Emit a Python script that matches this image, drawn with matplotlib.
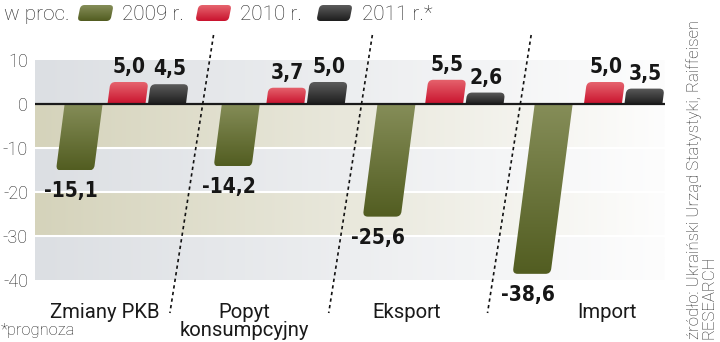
import numpy as np
import matplotlib
matplotlib.use("Agg")
import matplotlib.pyplot as plt
from matplotlib.patches import FancyBboxPatch
from matplotlib.transforms import Affine2D
from matplotlib.colors import to_rgb

# ---------------- data ----------------
categories = ["Zmiany PKB", "Popyt\nkonsumpcyjny", "Eksport", "Import"]
series_names = ["2009 r.", "2010 r.", "2011 r.*"]
v2009 = [-15.1, -14.2, -25.6, -38.6]
v2010 = [5.0, 3.7, 5.5, 5.0]
v2011 = [4.5, 5.0, 2.6, 3.5]
yticks = [10, 0, -10, -20, -30, -40]
ytick_labels = ["10", "0", "-10", "-20", "-30", "-40"]
unit_label = "w proc."
footnote = "*prognoza"
source = "źródło: Ukraiński Urząd Statystyki, Raiffeisen\nRESEARCH"

# ---------------- styles / layout ----------------
grad_colors = [("#858d58", "#525d21"),   # 2009 olive (top, bottom)
               ("#e6646e", "#c9132e"),   # 2010 red
               ("#5c5c5c", "#1e1e1e")]   # 2011 black
band_left = ["#dcdfe3", "#d5d3bb"]
LIGHT = dict(family=["Roboto", "DejaVu Sans"], weight="light")
REG = dict(family=["Roboto", "DejaVu Sans"], weight="normal")
BOLD = dict(family=["DejaVu Sans"], weight="bold", fontstretch="condensed")
TXT = "#262626"


def fmt(v):
    return f"{v:.1f}".replace(".", ",")


W, H = 720, 342
fig = plt.figure(figsize=(W / 100, H / 100), dpi=100)
fig.patch.set_facecolor("white")
renderer = fig.canvas.get_renderer()


def fit_size(s, props, target, base=12.0):
    t = fig.text(0, 0, s, fontsize=base, **props)
    w = t.get_window_extent(renderer).width
    t.remove()
    return base * target / w


ax_l, ax_r, ax_t, ax_b = 35, 665, 60, 280
ax = fig.add_axes([ax_l / W, 1 - ax_b / H, (ax_r - ax_l) / W, (ax_b - ax_t) / H])
x0, x1 = -0.576, 3.391
ymin, ymax = -40, 10
px_x = (ax_r - ax_l) / (x1 - x0)
px_y = (ax_b - ax_t) / (ymax - ymin)

# background bands with horizontal fade to white
edges = yticks
for i in range(len(edges) - 1):
    hi, lo = edges[i], edges[i + 1]
    lc = np.array(to_rgb(band_left[i % 2]))
    rc = np.array(to_rgb("#fdfdfd"))
    t = np.linspace(0, 1, 256)[:, None]
    arr = (lc * (1 - t) + rc * t)[None, :, :]
    ax.imshow(arr, extent=[x0, x1, lo, hi], aspect="auto", zorder=0,
              interpolation="bilinear")
for y in [-10, -20, -30]:
    ax.axhline(y, color="white", lw=1.5, zorder=1)

# skewed, rounded, gradient bars
k_bar = 0.13
c_bar = k_bar * px_y / px_x
skew = Affine2D(np.array([[1, c_bar, 0], [0, 1, 0], [0, 0, 1]]))
olive_dx = [-0.27, -0.28, -0.30, -0.31]
series_dx = [olive_dx, [0.0] * 4, [0.255] * 4]
width = 0.239
r_x = 5 / px_x
m_aspect = px_x / px_y
ext = 3.0
series = [v2009, v2010, v2011]

val_fs = fit_size("-25,6", BOLD, 54)

for j, vals in enumerate(series):
    ctop, cbot = (np.array(to_rgb(c)) for c in grad_colors[j])
    for i, v in enumerate(vals):
        xc = i + series_dx[j][i]
        if v < 0:
            yb, hb = v, -v + ext
        else:
            yb, hb = -ext, v + ext
        patch = FancyBboxPatch((xc - width / 2, yb), width, hb,
                               boxstyle=f"round,pad=0,rounding_size={r_x}",
                               mutation_aspect=m_aspect,
                               transform=skew + ax.transData,
                               facecolor="none", edgecolor="none", zorder=3)
        ax.add_patch(patch)
        tt = np.linspace(0, 1, 64)[:, None]
        arr = (ctop * (1 - tt) + cbot * tt)[:, None, :]
        sh = abs(c_bar * v) + 0.05
        im = ax.imshow(arr, extent=[xc - width / 2 - sh, xc + width / 2 + sh,
                                    min(v, 0), max(v, 0)],
                       origin="upper", aspect="auto", zorder=3,
                       interpolation="bilinear")
        im.set_clip_path(patch)
        if v < 0:
            ax.annotate(fmt(v), xy=(xc + c_bar * v, v), xytext=(-4, -11),
                        textcoords="offset pixels", ha="center", va="top",
                        fontsize=val_fs, color="#161616", zorder=6, **BOLD)
        else:
            ax.annotate(fmt(v), xy=(xc + c_bar * v, v), xytext=(0, 5),
                        textcoords="offset pixels", ha="center", va="bottom",
                        fontsize=val_fs, color="#161616", zorder=6, **BOLD)

ax.axhline(0, color="#1a1a1a", lw=1.6, zorder=5)

# dotted slanted dividers
k_div = 0.157
c_div = k_div * px_y / px_x
y_top = (ax_t + ymax * px_y - 35) / px_y
y_bot = -(313 - (ax_t + ymax * px_y)) / px_y
for i in range(len(categories) - 1):
    xm = i + 0.48
    ax.plot([xm + c_div * y_top, xm + c_div * y_bot], [y_top, y_bot],
            color="#111111", lw=1.2, ls=(0, (2.0, 2.0)), clip_on=False,
            zorder=7)

ax.set_xlim(x0, x1)
ax.set_ylim(ymin, ymax)
ax.set_autoscale_on(False)
ax.set_xticks([])
ax.set_yticks(yticks, ytick_labels)
tick_fs = fit_size("-10", LIGHT, 25)
ax.tick_params(axis="y", length=0, pad=5, labelsize=tick_fs, labelcolor=TXT)
for lab in ax.get_yticklabels():
    lab.set_fontfamily(LIGHT["family"])
    lab.set_fontweight("light")
for s in ax.spines.values():
    s.set_visible(False)

# ---------------- overlay in pixel coordinates ----------------
pax = fig.add_axes([0, 0, 1, 1], zorder=10)
pax.set_xlim(0, W)
pax.set_ylim(H, 0)
pax.axis("off")
pax.patch.set_alpha(0)

leg_targets = [63, 63, 62, 71]
leg_strings = [unit_label] + series_names
leg_fs = float(np.mean([fit_size(s, LIGHT, w) for s, w in zip(leg_strings, leg_targets)]))

pax.text(4, 20, unit_label, fontsize=leg_fs, color=TXT, va="baseline",
         ha="left", **LIGHT)
sw_x = [79, 197, 318]
txt_x = [122, 240, 362]
k_sw = 0.2
for j, name in enumerate(series_names):
    yc = 13
    tr = Affine2D(np.array([[1, -k_sw, k_sw * yc], [0, 1, 0], [0, 0, 1]])) + pax.transData
    p = FancyBboxPatch((sw_x[j], 5), 33, 16, boxstyle="round,pad=0,rounding_size=4",
                       transform=tr, facecolor="none", edgecolor="none")
    pax.add_patch(p)
    ctop, cbot = (np.array(to_rgb(c)) for c in grad_colors[j])
    tt = np.linspace(0, 1, 32)[:, None]
    arr = (ctop * (1 - tt) + cbot * tt)[:, None, :]
    im = pax.imshow(arr, extent=[sw_x[j] - 6, sw_x[j] + 39, 21, 5], origin="upper",
                    aspect="auto", interpolation="bilinear")
    im.set_clip_path(p)
    pax.text(txt_x[j], 20, name, fontsize=leg_fs, color=TXT, va="baseline",
             ha="left", **LIGHT)

cat_targets = [110, 132, 68, 58]
cat_fs = float(np.mean([fit_size(max(c.split("\n"), key=len), REG, w)
                        for c, w in zip(categories, cat_targets)]))
cat_x = [105, 244, 407, 607]
for cx, lab in zip(cat_x, categories):
    pax.text(cx, 303, lab, fontsize=cat_fs, color="#1a1a1a", ha="center",
             va="top", linespacing=0.9, **REG)

foot_fs = fit_size(footnote, LIGHT, 74)
pax.text(1, 335, footnote, fontsize=foot_fs, color=TXT, ha="left",
         va="baseline", **LIGHT)
src_fs = fit_size(source.split("\n")[0], LIGHT, 316)
pax.text(686, 339, source, rotation=90, fontsize=src_fs, color=TXT,
         ha="left", va="bottom", linespacing=0.95, multialignment="left", **LIGHT)
pax.set_xlim(0, W)
pax.set_ylim(H, 0)

fig.savefig("out.png", dpi=100, facecolor="white")
